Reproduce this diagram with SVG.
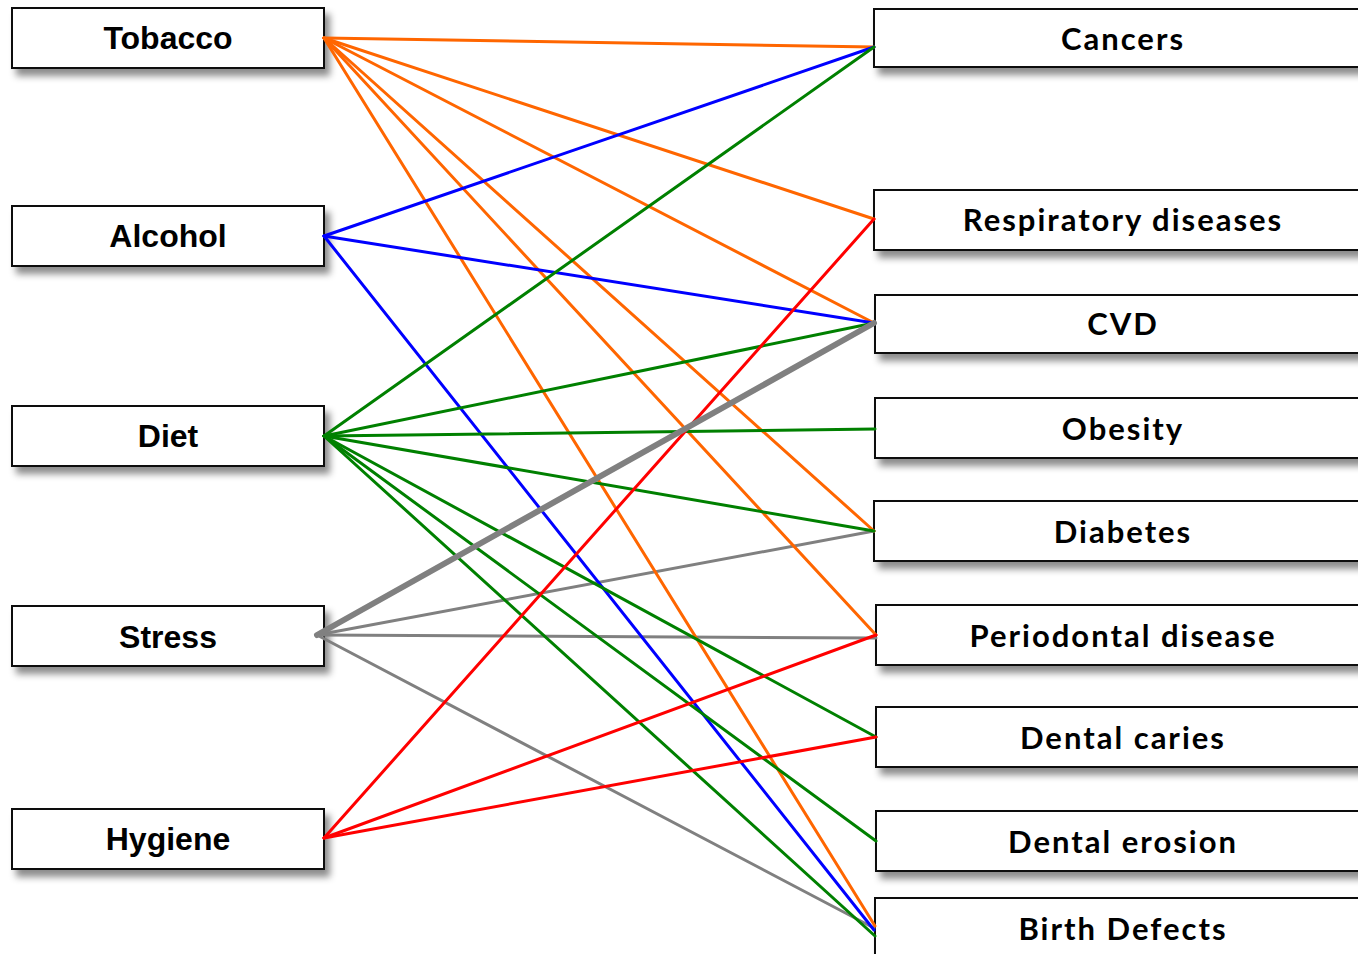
<svg xmlns="http://www.w3.org/2000/svg" width="1358" height="954" viewBox="0 0 1358 954">
<defs>
<filter id="sh" x="-10%" y="-30%" width="130%" height="180%">
<feDropShadow dx="5" dy="7" stdDeviation="3.5" flood-color="#000" flood-opacity="0.45"/>
</filter>
<style>
.box{fill:#fff;stroke:#111;stroke-width:2;filter:url(#sh)}
.lt{font-family:"Liberation Sans",Arial,sans-serif;font-weight:bold;font-size:32px;text-anchor:middle;fill:#000}
.rt{font-family:Lato,"Open Sans",sans-serif;font-weight:bold;font-size:31px;letter-spacing:2px;text-anchor:middle;fill:#000}
.c line{stroke-width:3;fill:none;stroke-linecap:round}
.o{stroke:#ff6600}.b{stroke:#0000ff}.g{stroke:#008000}.y{stroke:#808080}.r{stroke:#ff0000}
</style>
</defs>
<rect width="1358" height="954" fill="#fff"/>
<g id="left-nodes">
<g id="tobacco"><rect class="box" x="12" y="8" width="312" height="60"/><text class="lt" x="168" y="49">Tobacco</text></g>
<g id="alcohol"><rect class="box" x="12" y="206" width="312" height="60"/><text class="lt" x="168" y="247">Alcohol</text></g>
<g id="diet"><rect class="box" x="12" y="406" width="312" height="60"/><text class="lt" x="168" y="447">Diet</text></g>
<g id="stress"><rect class="box" x="12" y="606" width="312" height="60"/><text class="lt" x="168" y="648">Stress</text></g>
<g id="hygiene"><rect class="box" x="12" y="809" width="312" height="60"/><text class="lt" x="168" y="850">Hygiene</text></g>
</g>
<g id="right-nodes">
<g id="cancers"><rect class="box" x="874" y="9" width="500" height="58"/><text class="rt" x="1123" y="50">Cancers</text></g>
<g id="respiratory"><rect class="box" x="874" y="190" width="500" height="60"/><text class="rt" x="1123" y="231">Respiratory diseases</text></g>
<g id="cvd"><rect class="box" x="875" y="295" width="500" height="58"/><text class="rt" x="1123" y="335">CVD</text></g>
<g id="obesity"><rect class="box" x="875" y="398" width="500" height="60"/><text class="rt" x="1123" y="440">Obesity</text></g>
<g id="diabetes"><rect class="box" x="874" y="501" width="500" height="60"/><text class="rt" x="1123" y="543">Diabetes</text></g>
<g id="periodontal"><rect class="box" x="876" y="605" width="500" height="60"/><text class="rt" x="1123" y="647">Periodontal disease</text></g>
<g id="caries"><rect class="box" x="876" y="707" width="500" height="60"/><text class="rt" x="1123" y="749">Dental caries</text></g>
<g id="erosion"><rect class="box" x="876" y="811" width="500" height="60"/><text class="rt" x="1123" y="853">Dental erosion</text></g>
<g id="birth"><rect class="box" x="875" y="898" width="500" height="80"/><text class="rt" x="1123" y="940">Birth Defects</text></g>
</g>
<g id="connectors" class="c">
<line class="y" x1="317" y1="635" x2="874" y2="531"/>
<line class="y" x1="317" y1="635" x2="876" y2="638"/>
<line class="y" x1="317" y1="635" x2="874" y2="928"/>
<line class="o" x1="324" y1="38" x2="874" y2="47"/>
<line class="o" x1="324" y1="38" x2="874" y2="219"/>
<line class="o" x1="324" y1="38" x2="874" y2="323"/>
<line class="o" x1="324" y1="38" x2="874" y2="531"/>
<line class="o" x1="324" y1="38" x2="876" y2="635"/>
<line class="o" x1="324" y1="38" x2="875" y2="926"/>
<line class="b" x1="324" y1="236" x2="874" y2="47"/>
<line class="b" x1="324" y1="236" x2="874" y2="323"/>
<line class="b" x1="324" y1="236" x2="874" y2="930"/>
<line class="g" x1="324" y1="436" x2="874" y2="47"/>
<line class="g" x1="324" y1="436" x2="874" y2="323"/>
<line class="g" x1="324" y1="436" x2="875" y2="429"/>
<line class="g" x1="324" y1="436" x2="874" y2="531"/>
<line class="g" x1="324" y1="436" x2="876" y2="737"/>
<line class="g" x1="324" y1="436" x2="876" y2="841"/>
<line class="g" x1="324" y1="436" x2="875" y2="936"/>
<line class="r" x1="324" y1="838" x2="874" y2="219"/>
<line class="r" x1="324" y1="838" x2="876" y2="635"/>
<line class="r" x1="324" y1="838" x2="876" y2="737"/>
<line class="y" x1="317" y1="635" x2="874" y2="323" style="stroke-width:6"/>
</g>
</svg>
